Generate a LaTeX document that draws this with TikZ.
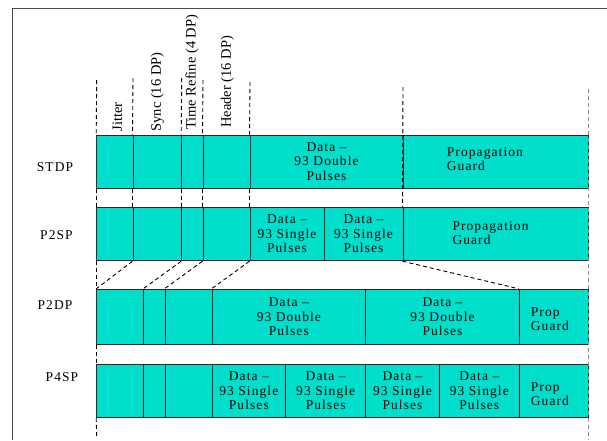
\documentclass[tikz,border=0pt]{standalone}
\usepackage{fontspec}
\setmainfont{Liberation Serif}
\newfontfamily\spaced[LetterSpace=8]{Liberation Serif}
\definecolor{boxfill}{RGB}{0,222,204}
\newcommand\seg[6]{\node[seg, minimum width={(#3-#2)*1pt}, minimum height={(#5-#4)*1pt}] (#1) at ({(#2+#3)/2},{(#4+#5)/2}) {#6};}
\begin{document}
\begin{tikzpicture}[x=1pt,y=-1pt,
  seg/.style={draw=black!85, fill=boxfill, line width=1pt, inner sep=0pt, align=center,
    font=\spaced\fontsize{13.5}{14.5}\selectfont},
  txt/.style={inner sep=0pt, align=left, anchor=west, font=\spaced\fontsize{13.5}{14}\selectfont},
  guide/.style={draw=black, line width=0.9pt, dash pattern=on 4pt off 3pt},
  greyguide/.style={draw=black!45, line width=1pt, dash pattern=on 4pt off 3pt},
  lbl/.style={inner sep=0pt, font=\spaced\fontsize{13.5}{15}\selectfont},
  rot/.style={rotate=90, anchor=west, inner sep=0pt, font=\fontsize{14.5}{16}\selectfont}]
\useasboundingbox (0,0) rectangle (607,440);
\draw[black!70, line width=1pt] (12,440) -- (12,8) -- (607,8);

% STDP
\seg{a1}{96.7}{133}{135}{188}{}
\seg{a2}{133}{181.7}{135}{188}{}
\seg{a3}{181.7}{203}{135}{188}{}
\seg{a4}{203}{250}{135}{188}{}
\seg{a5}{250}{403}{135}{188}{Data \textendash\\93 Double\\Pulses}
\seg{a6}{403}{588}{135}{188}{}
\node[txt] (g1) at (446.7,158.8) {Propagation\\Guard};

% P2SP
\seg{b1}{96.7}{133}{207.3}{260.7}{}
\seg{b2}{133}{181.7}{207.3}{260.7}{}
\seg{b3}{181.7}{203}{207.3}{260.7}{}
\seg{b4}{203}{250}{207.3}{260.7}{}
\seg{b5}{250}{324}{207.3}{260.7}{Data \textendash\\93 Single\\Pulses}
\seg{b6}{324}{403}{207.3}{260.7}{Data \textendash\\93 Single\\Pulses}
\seg{b7}{403}{588}{207.3}{260.7}{}
\node[txt] (g2) at (452.3,233.3) {Propagation\\Guard};

% P2DP
\seg{c1}{96.7}{143.7}{289.3}{344}{}
\seg{c2}{143.7}{165}{289.3}{344}{}
\seg{c3}{165}{212}{289.3}{344}{}
\seg{c4}{212}{365.7}{289.3}{344}{Data \textendash\\93 Double\\Pulses}
\seg{c5}{365.7}{519.3}{289.3}{344}{Data \textendash\\93 Double\\Pulses}
\seg{c6}{519.3}{588}{289.3}{344}{}
\node[txt] (g3) at (530.7,319.3) {Prop\\Guard};

% P4SP
\seg{d1}{96.7}{143.7}{364}{417.3}{}
\seg{d2}{143.7}{165}{364}{417.3}{}
\seg{d3}{165}{212}{364}{417.3}{}
\seg{d4}{212}{285.7}{364}{417.3}{Data \textendash\\93 Single\\Pulses}
\seg{d5}{285.7}{365.7}{364}{417.3}{Data \textendash\\93 Single\\Pulses}
\seg{d6}{365.7}{439.3}{364}{417.3}{Data \textendash\\93 Single\\Pulses}
\seg{d7}{439.3}{519.3}{364}{417.3}{Data \textendash\\93 Single\\Pulses}
\seg{d8}{519.3}{588}{364}{417.3}{}
\node[txt] (g4) at (530.7,394) {Prop\\Guard};

% row labels
\node[lbl] (lSTDP) at (55,166.7) {STDP};
\node[lbl] (lP2SP) at (56.5,235) {P2SP};
\node[lbl] (lP2DP) at (55,305) {P2DP};
\node[lbl] (lP4SP) at (62,376.7) {P4SP};

% rotated field labels
\node[rot] (tJ) at (117.5,131.7) {Jitter};
\node[rot] (tS) at (157.5,131.7) {Sync (16 DP)};
\node[rot] (tT) at (192,130) {Time Refine (4 DP)};
\node[rot] (tH) at (227.5,128) {Header (16 DP)};

% guide coordinates
\coordinate (v1) at (96.7,80);
\coordinate (v2) at (133,78);
\coordinate (v3) at (181.7,78);
\coordinate (v4) at (203,80);
\coordinate (v5) at (250,82);
\coordinate (v6) at (403,87);
\coordinate (vr) at (588,89);
\coordinate (vrb) at (588,440);
\coordinate (vb) at (96.7,437);

% dashed guides
\draw[guide] (v1) -- (a1.north west);
\draw[guide] (v2) -- (a2.north west);
\draw[guide] (v3) -- (a3.north west);
\draw[guide] (v4) -- (a4.north west);
\draw[guide] (v5) -- (a5.north west);
\draw[guide] (v6) -- (b7.north west);
\draw[guide] (a1.south west) -- (b1.north west);
\draw[guide] (a2.south west) -- (b2.north west);
\draw[guide] (a3.south west) -- (b3.north west);
\draw[guide] (a4.south west) -- (b4.north west);
\draw[guide] (a5.south west) -- (b5.north west);
\draw[guide] (b1.south west) -- (c1.north west);
\draw[guide] (b2.south west) -- (c1.north west);
\draw[guide] (b3.south west) -- (c2.north west);
\draw[guide] (b4.south west) -- (c3.north west);
\draw[guide] (b5.south west) -- (c4.north west);
\draw[guide] (b7.south west) -- (c6.north west);
\draw[guide] (c1.south west) -- (d1.north west);
\draw[guide] (d1.south west) -- (vb);
\draw[greyguide] (vr) -- (vrb);
\end{tikzpicture}
\end{document}
